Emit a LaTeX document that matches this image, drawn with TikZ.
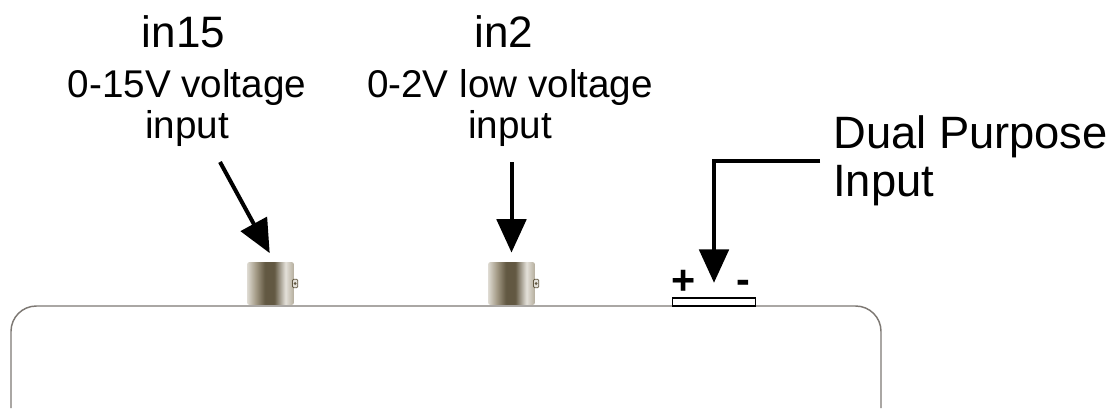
\documentclass[tikz,border=0pt]{standalone}
\usepackage{fontspec}
\setmainfont{Liberation Sans}
\usetikzlibrary{arrows.meta}

\definecolor{bncdark}{RGB}{98,88,66}
\definecolor{bncmid}{RGB}{165,156,136}
\definecolor{bnclight}{RGB}{228,225,218}
\definecolor{casegray}{RGB}{125,120,115}
\pgfdeclarehorizontalshading{bncmetal}{100bp}{color(0bp)=(bncdark); color(10bp)=(bncmid); color(24bp)=(bnclight); color(34bp)=(bncmid); color(44bp)=(bncdark); color(54bp)=(bncdark); color(66bp)=(bnclight); color(78bp)=(bncmid); color(90bp)=(bncmid); color(100bp)=(bncdark)}

\tikzset{
    title/.style = {font=\fontsize{33}{36}\selectfont, anchor=base, inner sep=0pt},
    desc/.style = {font=\fontsize{29}{31}\selectfont, align=center, anchor=north, inner sep=0pt},
    bnc/.style = {shade, shading=bncmetal, minimum width=35pt, minimum height=32pt, inner sep=0pt, rounded corners=1.5pt},
    nub/.style = {fill=bnclight, draw=bncdark, line width=0.6pt, minimum width=4pt, minimum height=6.5pt, inner sep=0pt, rounded corners=1pt, anchor=west},
    sign/.style = {font=\bfseries\fontsize{31}{31}\selectfont, inner sep=0pt},
    pointer/.style = {line width=3pt, -{Triangle[length=25pt, width=22pt]}},
}

\begin{document}
\begin{tikzpicture}[x=0.75pt, y=-0.75pt]
    \useasboundingbox (0, 0) rectangle (1115, 408);

    % case top
    \draw[casegray, line width=1.1pt, rounded corners=19pt] (11, 408) -- (11, 306) -- (881, 306) -- (881, 408);

    % connectors
    \node[bnc] (bnc1) at (270.5, 283.5) {};
    \node[bnc] (bnc2) at (511.5, 283.5) {};
    \foreach \b in {bnc1, bnc2} {
        \node[nub] (\b n) at ([xshift=-1.5pt]\b.east) {};
        \fill[bncdark] (\b n.center) circle (1.1pt);
    }
    \node[draw, fill=white, line width=0.8pt, minimum width=62pt, minimum height=6pt, inner sep=0pt] (term) at (714, 302) {};
    \node[sign] (plus) at (683.5, 282.5) {+};
    \node[sign, anchor=north] (minus) at (743.5, 280) {-};

    % labels
    \node[title] (in15) at (183.5, 47) {in15};
    \node[desc] (in15d) at (187, 69) {0-15V voltage\\input};
    \node[title] (in2) at (504, 47) {in2};
    \node[desc] (in2d) at (510, 69) {0-2V low voltage\\input};
    \node[font=\fontsize{34}{36}\selectfont, align=left, anchor=west, inner xsep=9.75pt, inner ysep=0pt] (dual) at (820, 161) {Dual Purpose\\Input};

    % pointers
    \coordinate (p15) at (220, 162);
    \coordinate (p2) at (511.5, 162);
    \draw[pointer, shorten >=7.5pt] (p15) -- ([xshift=3pt]bnc1.north);
    \draw[pointer, shorten >=7pt] (p2) -- (bnc2.north);
    \draw[pointer, shorten >=11pt] (dual.west) -| (term.north);
\end{tikzpicture}
\end{document}
